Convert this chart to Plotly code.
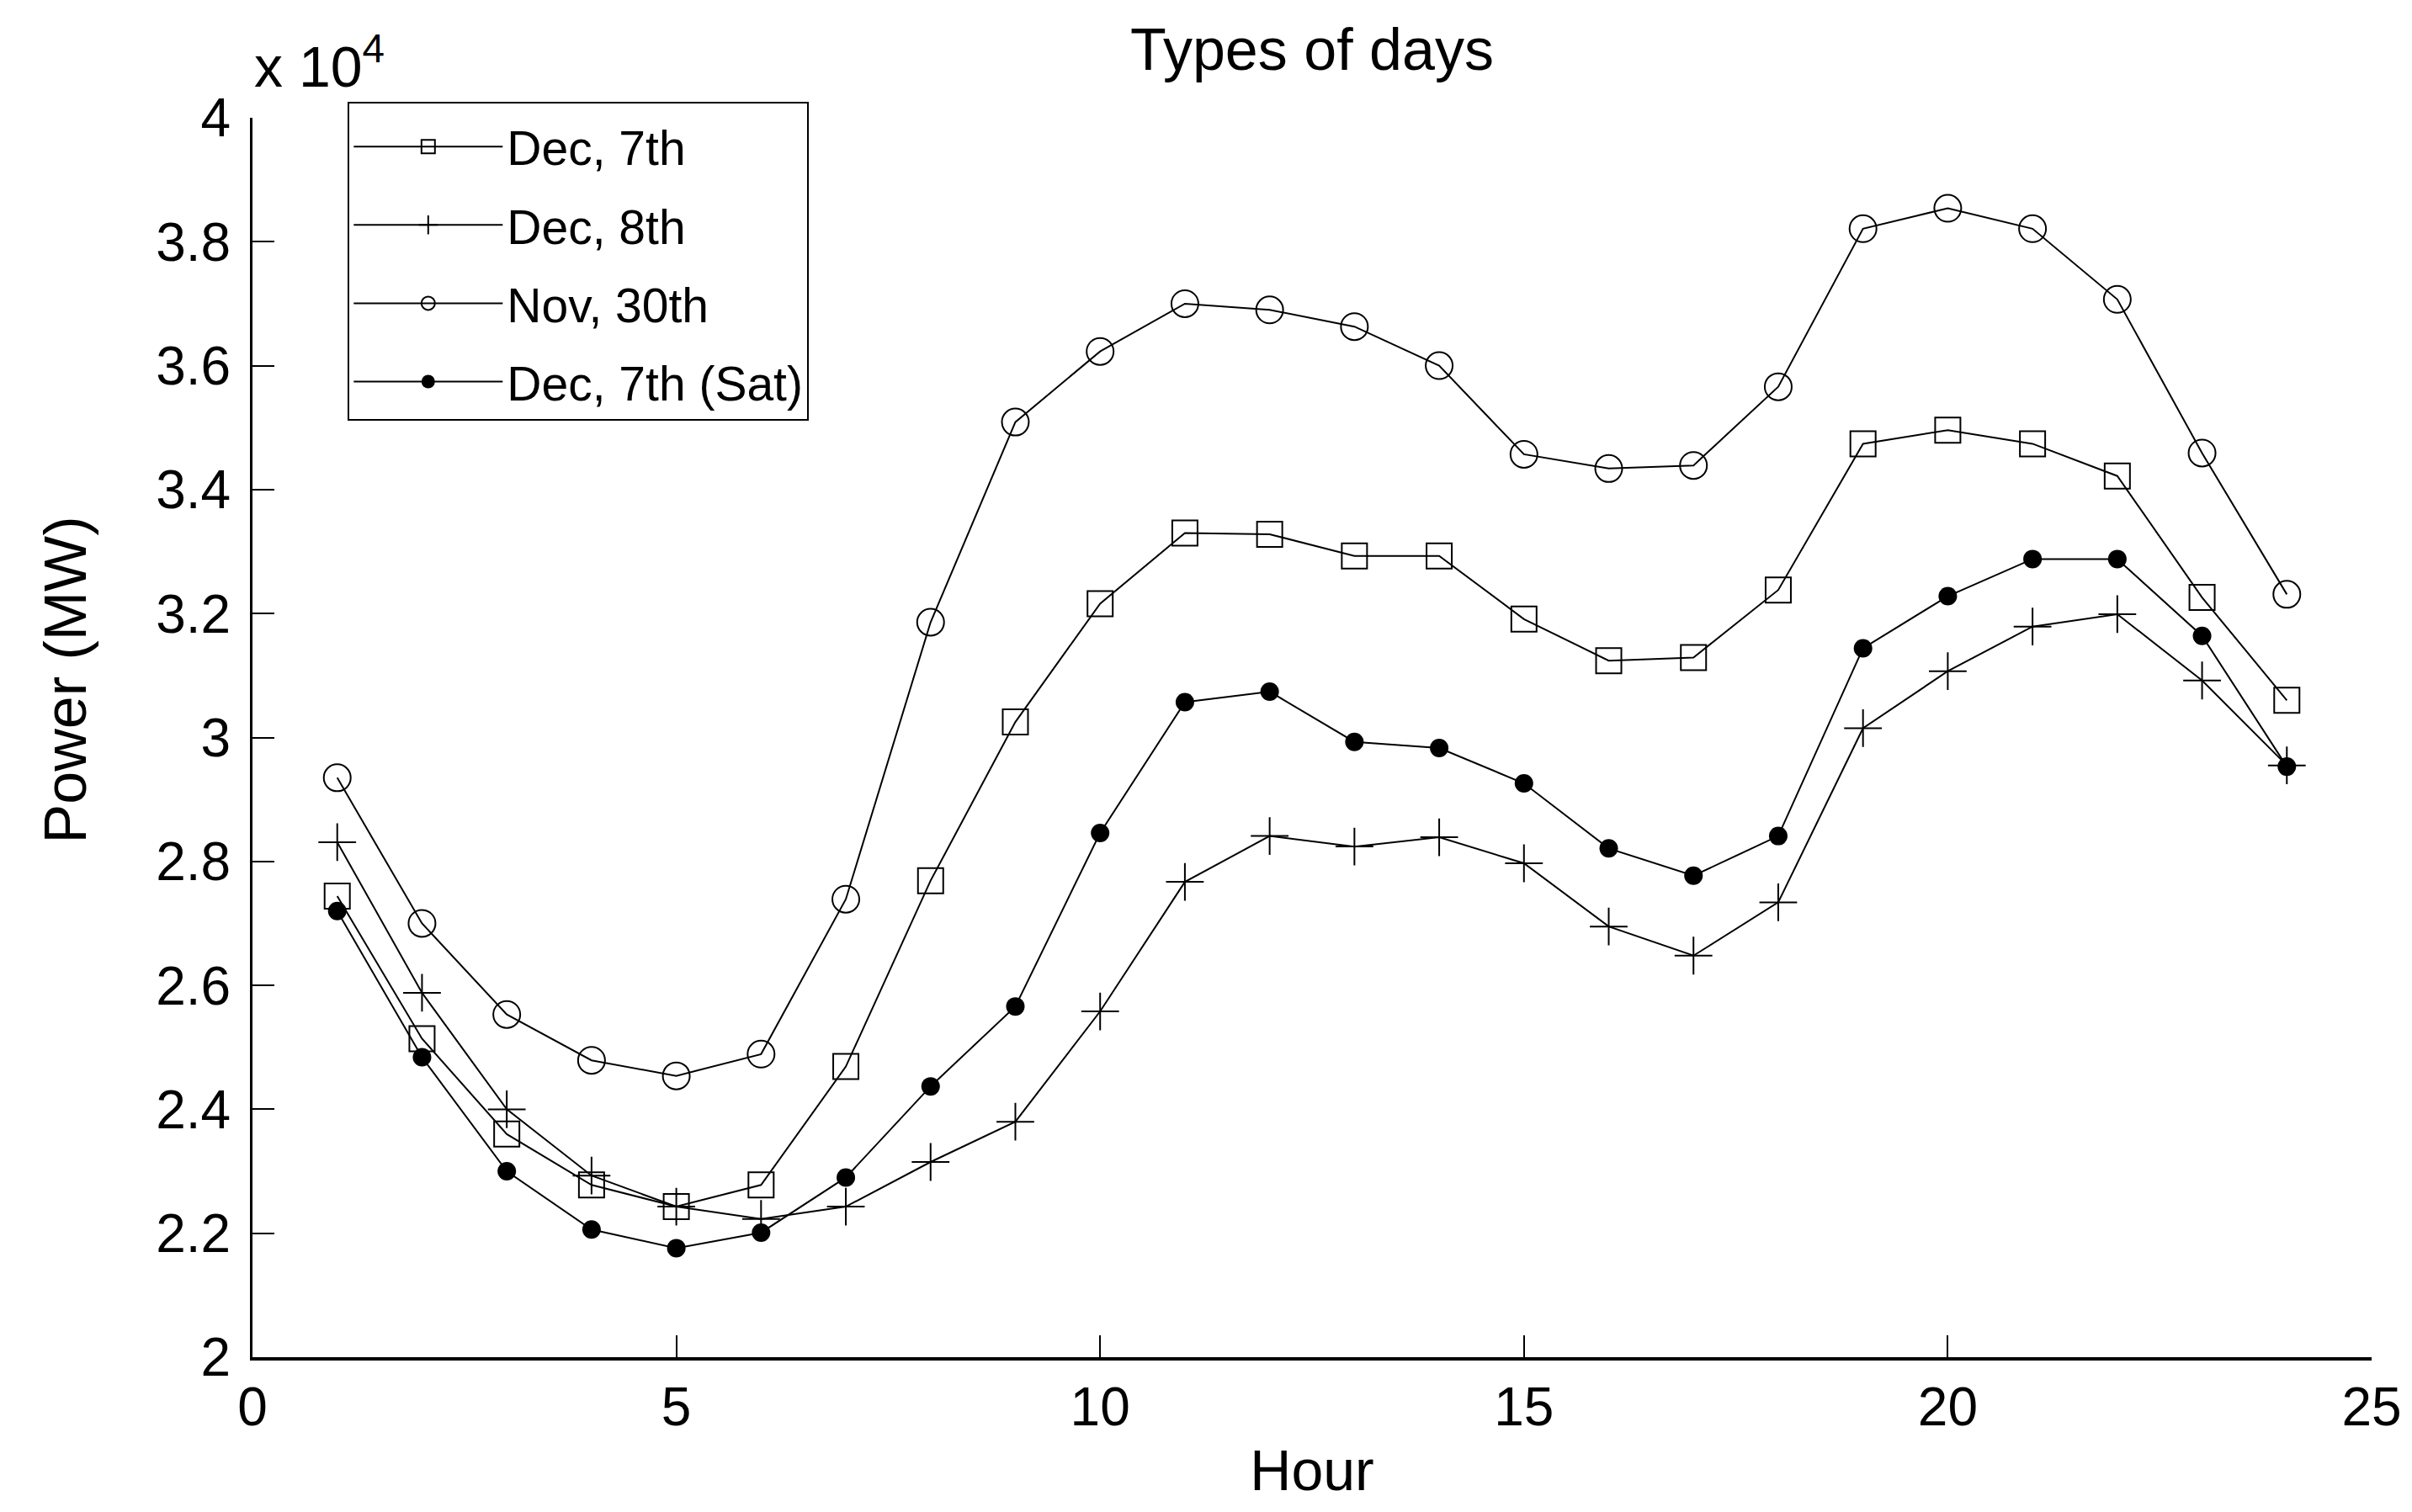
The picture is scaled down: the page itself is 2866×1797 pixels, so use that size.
import plotly.graph_objects as go

# Horas del día
horas = list(range(1, 25))

# Demanda (MW)
dic_7 = [27440, 25140, 23600, 22780, 22430, 22780, 24690, 27690, 30250, 32160, 33300, 33280,
         32930, 32930, 31910, 31240, 31290, 32380, 34740, 34960, 34740, 34220, 32260, 30600]
dic_8 = [28310, 25880, 24000, 22930, 22430, 22230, 22430, 23150, 23800, 25580, 27670, 28410,
         28240, 28390, 27970, 26950, 26480, 27340, 30150, 31070, 31790, 31990, 30920, 29550]
nov_30 = [29350, 27000, 25530, 24790, 24540, 24890, 27390, 31860, 35090, 36230, 37000, 36900,
          36630, 36000, 34570, 34340, 34390, 35660, 38210, 38540, 38210, 37070, 34590, 32310]
dic_7_sab = [27200, 24840, 23000, 22060, 21760, 22010, 22900, 24370, 25660, 28460, 30570, 30740,
             29930, 29830, 29260, 28210, 27770, 28410, 31440, 32280, 32880, 32880, 31640, 29530]

series = ["Dec, 7th", "Dec, 8th", "Nov, 30th", "Dec, 7th (Sat)"]

x_ticks = [0, 5, 10, 15, 20, 25]
y_ticks = [20000, 22000, 24000, 26000, 28000, 30000, 32000, 34000, 36000, 38000, 40000]
y_ticktext = ["2", "2.2", "2.4", "2.6", "2.8", "3", "3.2", "3.4", "3.6", "3.8", "4"]

fuente = "Liberation Sans Narrow, Liberation Sans, Arial"

fig = go.Figure()

estilos = [
    dict(symbol="square-open", size=30, color="black", line=dict(width=2, color="black")),
    dict(symbol="cross-thin-open", size=32, color="black", line=dict(width=2, color="black")),
    dict(symbol="circle-open", size=32, color="black", line=dict(width=2, color="black")),
    dict(symbol="circle", size=22, color="black"),
]

for i, (nombre, y, mk) in enumerate(zip(series, [dic_7, dic_8, nov_30, dic_7_sab], estilos)):
    fig.add_trace(go.Scatter(x=horas, y=y, name=nombre, mode="lines+markers",
                             legendgroup=f"g{i}",
                             line=dict(color="black", width=2), marker=mk))

fig.update_layout(
    width=2866, height=1797,
    paper_bgcolor="white", plot_bgcolor="white",
    margin=dict(l=292, r=56, t=132, b=192),
    font=dict(family=fuente, color="black", size=64),
    title=dict(text="Types of days", x=0.5, xref="paper", xanchor="center",
               y=1 - 50 / 1797, yanchor="middle", font=dict(size=70)),
    legend=dict(x=0.045, y=1.013, xanchor="left", yanchor="top",
                bgcolor="white", bordercolor="black", borderwidth=2,
                title=dict(text=" ", font=dict(size=6)),
                font=dict(size=57), itemwidth=177, tracegroupgap=16),
)

fig.update_xaxes(range=[0, 25], tickvals=x_ticks, ticks="inside", ticklen=26,
                 tickcolor="black", tickwidth=2, showline=True, linecolor="black",
                 linewidth=4, showgrid=False, zeroline=False,
                 tickfont=dict(size=64),
                 title=dict(text="Hour", font=dict(size=68), standoff=18))
fig.update_yaxes(range=[20000, 40000], tickvals=y_ticks, ticktext=y_ticktext,
                 ticks="inside", ticklen=26, tickcolor="black", tickwidth=2,
                 showline=True, linecolor="black", linewidth=3, showgrid=False,
                 zeroline=False, tickfont=dict(size=64), ticklabelstandoff=10)

# título del eje y (algo desplazado hacia arriba, como en el original)
fig.add_annotation(text="Power (MW)", xref="paper", yref="paper", x=-0.088, y=0.5465,
                   xanchor="center", yanchor="middle", textangle=-90, showarrow=False,
                   font=dict(size=70))

fig.add_annotation(text="x 10<sup>4</sup>", xref="paper", yref="paper", x=0, y=1.045,
                   xanchor="left", yanchor="middle", showarrow=False,
                   font=dict(size=68))

#fig.show()
fig.write_html("out.html")
